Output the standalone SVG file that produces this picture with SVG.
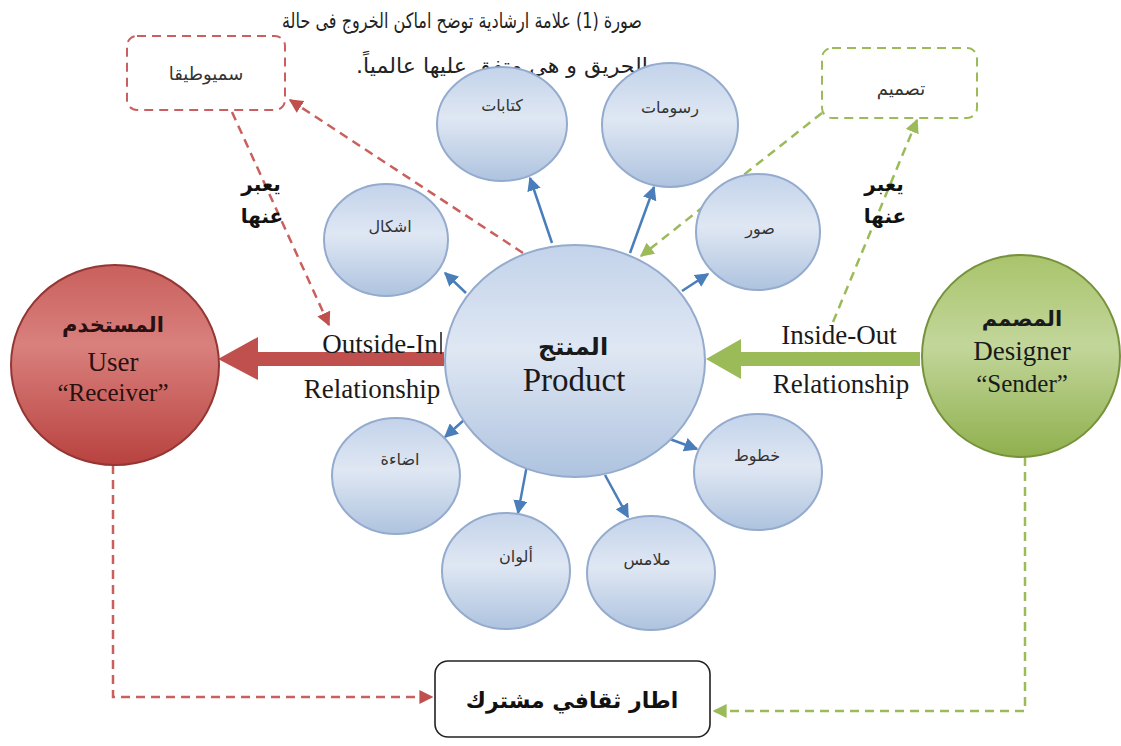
<svg xmlns="http://www.w3.org/2000/svg" width="1121" height="746" viewBox="0 0 1121 746">
<defs>
<linearGradient id="gBlue" x1="0" y1="0" x2="0" y2="1">
<stop offset="0" stop-color="#c3d3ea"/>
<stop offset="0.45" stop-color="#dfe7f3"/>
<stop offset="1" stop-color="#aec3df"/>
</linearGradient>
<linearGradient id="gRed" x1="0" y1="0" x2="0" y2="1">
<stop offset="0" stop-color="#c9605d"/>
<stop offset="0.4" stop-color="#d9807d"/>
<stop offset="1" stop-color="#b8423f"/>
</linearGradient>
<linearGradient id="gGreen" x1="0" y1="0" x2="0" y2="1">
<stop offset="0" stop-color="#a9c46c"/>
<stop offset="0.45" stop-color="#c2d69a"/>
<stop offset="1" stop-color="#8fb04d"/>
</linearGradient>
<marker id="mBlue" viewBox="0 0 10 10" refX="9" refY="5" markerWidth="14" markerHeight="14" markerUnits="userSpaceOnUse" orient="auto">
<path d="M0,0 L10,5 L0,10 z" fill="#4a7ebb"/>
</marker>
<marker id="mRed" viewBox="0 0 10 10" refX="9" refY="5" markerWidth="14" markerHeight="14" markerUnits="userSpaceOnUse" orient="auto">
<path d="M0,0 L10,5 L0,10 z" fill="#c0504d"/>
</marker>
<marker id="mGreen" viewBox="0 0 10 10" refX="9" refY="5" markerWidth="14" markerHeight="14" markerUnits="userSpaceOnUse" orient="auto">
<path d="M0,0 L10,5 L0,10 z" fill="#9bbb59"/>
</marker>
</defs>
<style>
.bub{fill:url(#gBlue);stroke:#94abcd;stroke-width:2}
.ar{font-family:"DejaVu Sans","Noto Sans",sans-serif;fill:#333;text-anchor:middle}
.sm{font-size:16px}
.lat{font-family:"Liberation Serif","Times New Roman",serif;fill:#1a1a1a;text-anchor:middle}
.blue{stroke:#4a7ebb;stroke-width:2.5;fill:none;marker-end:url(#mBlue)}
.rdash{stroke:#c9605d;stroke-width:2.5;fill:none;stroke-dasharray:9 6}
.gdash{stroke:#9bbb59;stroke-width:2.5;fill:none;stroke-dasharray:9 6}
.lbl{font-family:"Liberation Serif","Times New Roman",serif;font-size:27px;fill:#1a1a1a;text-anchor:middle}
.cap{font-family:"DejaVu Sans","Noto Sans",sans-serif;font-size:21px;fill:#222;text-anchor:start}
</style>
<rect width="1121" height="746" fill="#ffffff"/>

<g id="caption">
<text x="642" y="28" class="cap" direction="rtl" textLength="360" lengthAdjust="spacingAndGlyphs">صورة (1) علامة ارشادية توضح اماكن الخروج فى حالة</text>
<text x="648" y="73" class="cap" direction="rtl" textLength="292" lengthAdjust="spacingAndGlyphs">الحريق و هي متفق عليها عالمياً.</text>
</g>

<g id="connectors">
<line class="blue" x1="552" y1="243" x2="530" y2="178"/>
<line class="blue" x1="630" y1="253" x2="654" y2="187"/>
<line class="blue" x1="466" y1="293" x2="445" y2="273"/>
<line class="blue" x1="682" y1="291" x2="708" y2="274"/>
<line class="blue" x1="464" y1="420" x2="445" y2="437"/>
<line class="blue" x1="527" y1="465" x2="518" y2="513"/>
<line class="blue" x1="605" y1="475" x2="628" y2="517"/>
<line class="blue" x1="667" y1="438" x2="697" y2="449"/>
<line class="rdash" x1="523" y1="253" x2="290" y2="100" marker-end="url(#mRed)"/>
<line class="rdash" x1="232" y1="112" x2="329" y2="325" marker-end="url(#mRed)"/>
<polyline class="rdash" points="113,465 113,697 432,697" marker-end="url(#mRed)"/>
<line class="gdash" x1="822" y1="113" x2="641" y2="256" marker-end="url(#mGreen)"/>
<line class="gdash" x1="833" y1="322" x2="917" y2="120" marker-end="url(#mGreen)"/>
<polyline class="gdash" points="1025,457 1025,711 714,711" marker-end="url(#mGreen)"/>
<path d="M444,352 L258,352 L258,337 L218,359 L258,380 L258,366 L444,366 z" fill="#c0504d"/>
<path d="M920,352 L741,352 L741,339 L706,359 L741,379 L741,366 L920,366 z" fill="#9bbb59"/>
</g>

<g id="node-product">
<ellipse class="bub" cx="575" cy="361" rx="130" ry="116"/>
<text x="573" y="355" class="ar" style="font-size:24px;font-weight:bold;fill:#1a1a1a" direction="rtl">المنتج</text>
<text x="574" y="391" class="lat" style="font-size:33px">Product</text>
</g>

<g id="node-kitabat"><ellipse class="bub" cx="502" cy="124" rx="65" ry="57"/><text x="502" y="111" class="ar sm" direction="rtl">كتابات</text></g>
<g id="node-rusumat"><ellipse class="bub" cx="670" cy="125" rx="68" ry="62"/><text x="670" y="113" class="ar sm" direction="rtl">رسومات</text></g>
<g id="node-ashkal"><ellipse class="bub" cx="386" cy="240" rx="62" ry="56"/><text x="390" y="232" class="ar sm" direction="rtl">اشكال</text></g>
<g id="node-suwar"><ellipse class="bub" cx="758" cy="232" rx="62" ry="58"/><text x="760" y="234" class="ar sm" direction="rtl">صور</text></g>
<g id="node-idaa"><ellipse class="bub" cx="396" cy="476" rx="64" ry="58"/><text x="400" y="465" class="ar sm" direction="rtl">اضاءة</text></g>
<g id="node-khutut"><ellipse class="bub" cx="758" cy="472" rx="64" ry="58"/><text x="757" y="461" class="ar sm" direction="rtl">خطوط</text></g>
<g id="node-alwan"><ellipse class="bub" cx="506" cy="571" rx="64" ry="58"/><text x="516" y="562" class="ar sm" direction="rtl">ألوان</text></g>
<g id="node-malamis"><ellipse class="bub" cx="651" cy="573" rx="64" ry="57"/><text x="647" y="565" class="ar sm" direction="rtl">ملامس</text></g>

<g id="node-user">
<ellipse cx="115" cy="365" rx="104" ry="100" fill="url(#gRed)" stroke="#943634" stroke-width="2"/>
<text x="113" y="332" class="ar" style="font-size:21px;font-weight:bold;fill:#2a1010" direction="rtl">المستخدم</text>
<text x="113" y="371" class="lat" style="font-size:27px;fill:#2a1010">User</text>
<text x="113" y="401" class="lat" style="font-size:25px;fill:#2a1010">“Receiver”</text>
</g>

<g id="node-designer">
<ellipse cx="1021" cy="356" rx="99" ry="101" fill="url(#gGreen)" stroke="#76923c" stroke-width="2"/>
<text x="1022" y="326" class="ar" style="font-size:21px;font-weight:bold;fill:#1a1a1a" direction="rtl">المصمم</text>
<text x="1022" y="360" class="lat" style="font-size:27px">Designer</text>
<text x="1022" y="392" class="lat" style="font-size:25px">“Sender”</text>
</g>

<g id="node-semiotics">
<rect x="127" y="36" width="158" height="74" rx="10" fill="#ffffff" stroke="#c9605d" stroke-width="2" stroke-dasharray="9 6"/>
<text x="206" y="80" class="ar" style="font-size:18px" direction="rtl">سميوطيقا</text>
</g>

<g id="node-design">
<rect x="822" y="48" width="155" height="70" rx="10" fill="#ffffff" stroke="#9bbb59" stroke-width="2" stroke-dasharray="9 6"/>
<text x="901" y="95" class="ar" style="font-size:18px" direction="rtl">تصميم</text>
</g>

<g id="node-culture">
<rect x="435" y="661" width="275" height="76" rx="13" fill="#ffffff" stroke="#222" stroke-width="1.6"/>
<text x="572" y="708" class="ar" style="font-size:22px;font-weight:bold;fill:#111" direction="rtl">اطار ثقافي مشترك</text>
</g>

<g id="labels">
<text x="380" y="353" class="lbl">Outside-In</text>
<line x1="441" y1="332" x2="441" y2="354" stroke="#1a1a1a" stroke-width="1.5"/>
<text x="372" y="398" class="lbl">Relationship</text>
<text x="839" y="344" class="lbl">Inside-Out</text>
<text x="841" y="393" class="lbl">Relationship</text>
<text x="261" y="191" class="ar" style="font-size:20px;font-weight:bold;fill:#111" direction="rtl">يعبر</text>
<text x="262" y="223" class="ar" style="font-size:20px;font-weight:bold;fill:#111" direction="rtl">عنها</text>
<text x="884" y="191" class="ar" style="font-size:20px;font-weight:bold;fill:#111" direction="rtl">يعبر</text>
<text x="885" y="223" class="ar" style="font-size:20px;font-weight:bold;fill:#111" direction="rtl">عنها</text>
</g>
</svg>
